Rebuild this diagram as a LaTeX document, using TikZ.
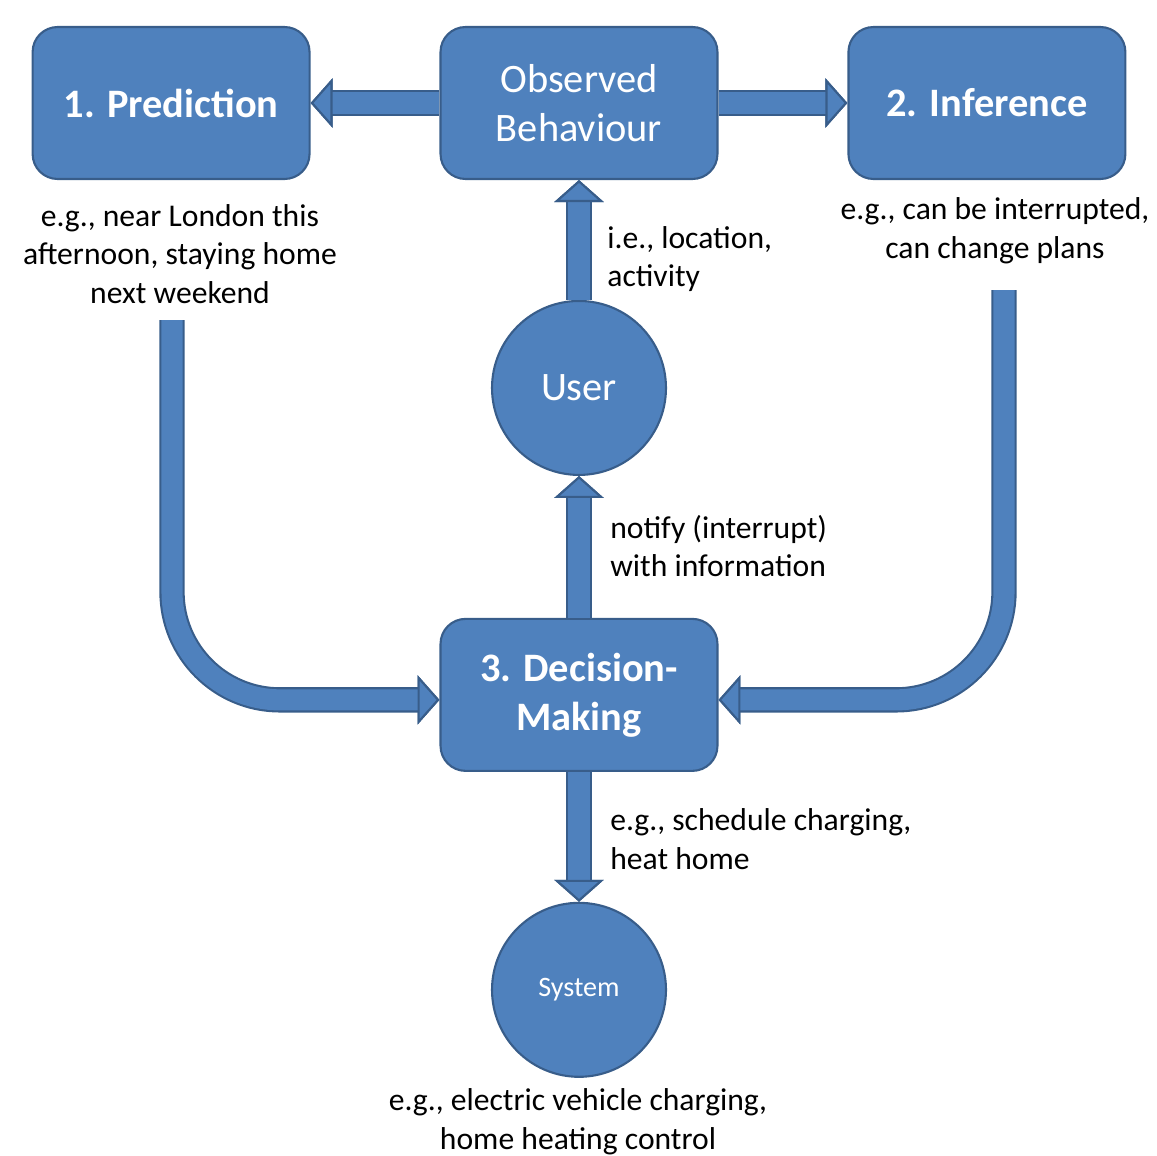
\documentclass[tikz,border=0pt]{standalone}
\usepackage{fontspec}
\setmainfont{Carlito}
\usetikzlibrary{arrows.meta, positioning}
\definecolor{blockfill}{RGB}{79,129,189}
\definecolor{blockline}{RGB}{56,93,138}
\tikzset{
  box/.style={draw=blockline, fill=blockfill, line width=1.2pt, rounded corners=0.5cm,
    minimum width=5.54cm, minimum height=3.04cm, align=center, text=white,
    font=\fontsize{23}{28}\selectfont},
  boldbox/.style={box, font=\fontsize{23}{28}\selectfont\bfseries},
  circ/.style={circle, draw=blockline, fill=blockfill, line width=1.2pt,
    minimum size=3.48cm, text=white, font=\fontsize{23}{28}\selectfont},
  note/.style={align=center, inner sep=0pt, font=\fontsize{18}{22}\selectfont},
  bigarrow/.style={draw=blockfill, line width=12pt,
    -{Triangle[length=12.5pt, width=28pt, line width'=1.2pt, fill=blockfill, color=blockline]},
    preaction={draw=blockline, line width=14.4pt}},
}
\begin{document}
\begin{tikzpicture}[x=0.02cm, y=-0.02cm, on grid, node distance=8.16cm]
\useasboundingbox (0,0) rectangle (1157,1156);
% blocks
\node (obs) [box] at (579,103) {Observed\\Behaviour};
\node (pred) [boldbox, left = of obs] {1. Prediction};
\node (inf) [boldbox, right = of obs] {2. Inference};
\node (user) [circ, below = 5.7cm of obs] {User};
\node (dec) [boldbox, below = 6.14cm of user] {3. Decision-\\Making};
\node (sys) [circ, below = 5.9cm of dec, font=\fontsize{16}{19}\selectfont] {System};
% texts
\node (predtxt) [note] at (180,254) {e.g., near London this\\afternoon, staying home\\next weekend};
\node (inftxt) [note] at (995,231) {e.g., can be interrupted,\\can change plans};
\node (usertxt) [note, align=left, anchor=west] at (607,259) {i.e., location,\\activity};
\node (notifytxt) [note, align=left, anchor=west] at (610,546) {notify (interrupt)\\with information};
\node (schedtxt) [note, align=left, anchor=west] at (610,839) {e.g., schedule charging,\\heat home};
\node (systxt) [note] at (578,1122) {e.g., electric vehicle charging,\\home heating control};
\coordinate (predstart) at (172,320);
\coordinate (infstart) at (1004,290);
% arrows
\draw[bigarrow] (obs) -- (pred);
\draw[bigarrow] (obs) -- (inf);
\draw[bigarrow] (user) -- (obs);
\draw[bigarrow] (dec) -- (user);
\draw[bigarrow] (dec) -- (sys);
\draw[bigarrow, rounded corners=2.16cm] (predstart) |- ([yshift=-0.1cm]dec.west);
\draw[bigarrow, rounded corners=2.16cm] (infstart) |- ([yshift=-0.1cm]dec.east);
\end{tikzpicture}
\end{document}
